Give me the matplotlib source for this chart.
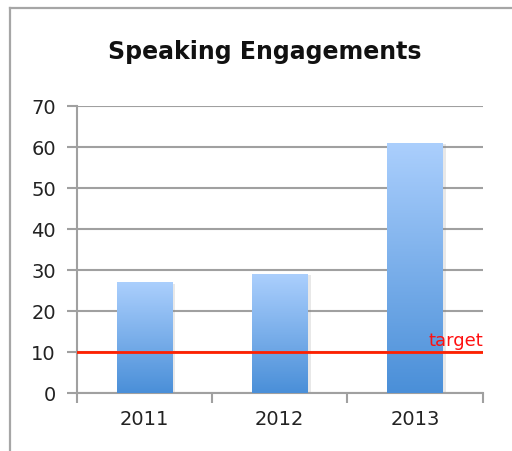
import matplotlib.pyplot as plt
import numpy as np
from matplotlib.colors import LinearSegmentedColormap
from matplotlib.lines import Line2D
from matplotlib.patches import Rectangle

years = ['2011', '2012', '2013']
engagements = [27, 29, 61]
target = 10

plt.rcParams['font.family'] = ['DejaVu Sans']

fig = plt.figure(figsize=(5.12, 4.51), dpi=100)
ax = fig.add_axes([0.150, 0.1286, 0.793, 0.636])

# outer frame of the chart area (top and left edges only)
fx, fy = 9.5 / 512, 1 - 7.5 / 451
fig.add_artist(Line2D([fx, 1.05], [fy, fy], transform=fig.transFigure,
                      color='#a6a6a6', linewidth=1.6))
fig.add_artist(Line2D([fx, fx], [-0.05, fy], transform=fig.transFigure,
                      color='#a6a6a6', linewidth=1.6))

grad = LinearSegmentedColormap.from_list('bar_grad', ['#4a8fd8', '#abcffd'])
x = np.arange(len(years))
width = 0.41

for xi, v in zip(x, engagements):
    # soft shadow to the right of each bar
    ax.add_patch(Rectangle((xi - width / 2 + 0.012, 0), width + 0.012, v - 0.3,
                           facecolor='#808080', alpha=0.18, edgecolor='none',
                           zorder=2))
    bar = ax.bar(xi, v, width, color='none', edgecolor='none', zorder=3)[0]
    img = ax.imshow(np.linspace(0, 1, 256).reshape(-1, 1), cmap=grad,
                    origin='lower', aspect='auto',
                    extent=[xi - width / 2, xi + width / 2, 0, v], zorder=3)
    img.set_clip_path(bar)

ax.axhline(target, color='#ff2000', linewidth=2, zorder=4)
ax.text(2.5, target + 0.4, 'target', color='#ff1010', fontsize=13,
        ha='right', va='bottom', zorder=5)

ax.set_xlim(-0.5, 2.5)
ax.set_ylim(0, 70)
ax.set_yticks(range(0, 71, 10))
ax.set_xticks(x, years)
ax.set_xticks([-0.5, 0.5, 1.5, 2.5], minor=True)
ax.tick_params(axis='x', which='major', length=0, pad=12, labelsize=14,
               labelcolor='#222222')
ax.tick_params(axis='x', which='minor', length=7, width=1.5, color='#a0a0a0')
ax.tick_params(axis='y', length=7, width=1.5, color='#a0a0a0', pad=8,
               labelsize=14, labelcolor='#222222')

ax.grid(axis='y', color='#a0a0a0', linewidth=1.5)
ax.set_axisbelow(True)
for side in ['top', 'right']:
    ax.spines[side].set_visible(False)
for side in ['left', 'bottom']:
    ax.spines[side].set_color('#a0a0a0')
    ax.spines[side].set_linewidth(1.5)

fig.text(0.518, 0.885, 'Speaking Engagements', ha='center', va='center',
         fontsize=17, fontweight='bold', color='#111111')

fig.savefig('out.png', dpi=100)
